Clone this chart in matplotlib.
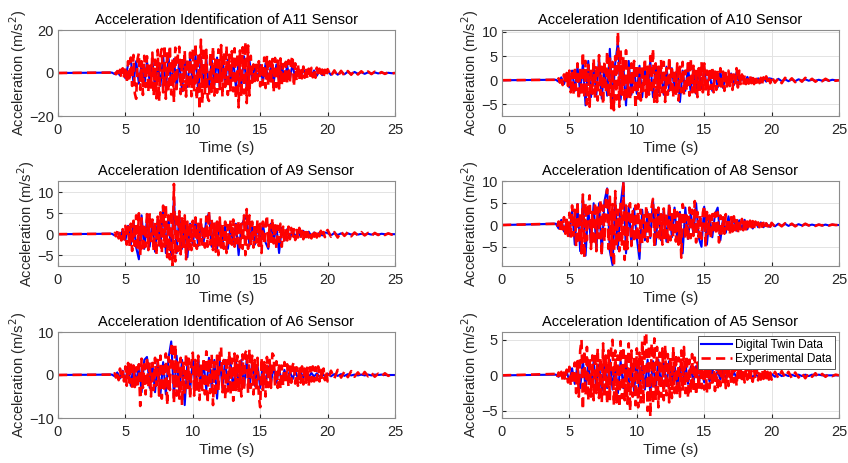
import numpy as np
import matplotlib
matplotlib.use("Agg")
import matplotlib.pyplot as plt

plt.rcParams['font.family'] = ['Liberation Sans', 'DejaVu Sans']

# time grids (s): red at 0.1 s, blue at 0.2 s, common quiet tail at 0.25 s
t_red = np.arange(40, 200) / 10
t_blue = np.arange(20, 100) / 5
t_tail = np.arange(80, 101) / 4

sensors = ["A11", "A10", "A9", "A8", "A6", "A5"]
ylims = [(-20, 20), (-7.4, 10.4), (-7.6, 12.7), (-9.4, 10.1), (-10, 10), (-6.0, 6.1)]
yticks = [[-20, 0, 20], [-5, 0, 5, 10], [-5, 0, 5, 10], [-5, 0, 5, 10], [-10, 0, 10], [-5, 0, 5]]

# ---- A11 ----
a11_exp = [0.2, -0.3, 0.5, -0.6, 0.9, -1.2, 1.5, -1.8, 2.2, -2.5,
           3.0, -4.5, 5.5, -3.8, 7.2, -6.0, 8.4, -9.5, -12.0, 6.5,
           9.2, -7.8, 5.5, -10.2, 8.0, -6.5, 7.8, -8.9, 4.5, -6.8,
           9.5, -10.5, 6.2, -11.8, 10.8, -13.0, 8.5, 11.2, -9.0, 13.0,
           -12.0, 10.5, -8.5, 12.8, -10.0, 6.5, -13.5, 11.8, -7.5, 9.2,
           12.2, -9.8, 7.0, -8.2, 10.5, -11.0, 6.8, -7.5, 9.5, -10.8,
           11.5, -8.0, 13.8, -12.5, 9.0, -17.0, 15.5, -14.0, 12.0, -9.5,
           10.8, -11.5, -13.0, 9.5, -8.8, 12.2, -10.5, 7.8, -9.2, 11.0,
           -7.5, 13.0, -11.0, 9.8, -6.5, 12.5, -10.2, 8.5, -9.0, 10.2,
           -8.5, 11.5, -12.0, 9.0, -16.0, 10.5, -11.2, 12.0, -9.5, 14.5,
           -14.0, 12.8, -10.5, 8.0, -4.5, 4.0, -5.2, 3.8, -3.5, 5.5,
           -6.2, 4.8, -5.5, 7.2, -7.0, 8.0, -6.0, 5.5, -4.8, 6.5,
           -9.0, 7.0, -6.5, 5.8, -7.2, 6.8, -5.5, 4.2, -4.8, 5.2,
           -5.0, 6.0, -4.5, 5.5, 8.0, -6.2, 4.5, -3.8, 4.2, -3.0,
           2.8, -2.5, 3.0, -2.2, 2.5, -2.8, 2.0, -1.8, 2.4, -2.0,
           1.8, -2.2, 2.5, -1.5, 2.0, -1.8, 1.6, -2.0, 1.5, -1.4]
a11_exp_tail = [1.8, -1.5, 1.2, -1.6, 1.0, -1.2, 0.9, -0.8, 1.0, -0.7, 0.8,
                -0.6, 0.7, -0.5, 0.6, -0.5, 0.4, -0.4, 0.3, -0.2, 0.0]
a11_dt = [0.2, -0.5, 0.8, -1.2, 1.8,
          -2.5, 4.0, 6.0, -4.5, 5.5,
          -5.0, 4.8, -6.2, 5.5, -4.0,
          6.0, -7.5, 5.2, -6.0, 8.0,
          -6.8, 7.2, -5.5, 6.5, -7.0,
          6.0, -8.5, 5.8, -6.5, 7.0,
          -6.0, 8.2, -9.0, 7.5, -6.2,
          6.8, -7.8, 6.0, -5.5, 7.2,
          -6.5, 7.0, -5.8, 6.2, -5.0,
          6.5, -7.0, 5.5, -6.0, 7.8,
          -7.5, 6.0, -3.5, 3.2, -3.0,
          3.8, -4.2, 4.5, -3.8, 3.5,
          -4.5, 4.0, -3.5, 3.8, -3.2,
          3.5, -3.0, 4.5, -2.8, 2.5,
          -2.0, 1.8, -1.5, 1.6, -1.4,
          1.2, -1.3, 1.1, -1.0, 0.9]
a11_dt_tail = [1.0, -0.9, 0.8, -0.8, 0.7, -0.6, 0.6, -0.5, 0.5, -0.4, 0.4,
               -0.4, 0.3, -0.3, 0.3, -0.2, 0.2, -0.2, 0.1, -0.1, 0.0]

# ---- A10 ----
a10_exp = [0.1, -0.2, 0.4, -0.5, 0.8, -1.0, 1.2, -0.8, 1.5, -1.2,
           2.0, -2.5, 1.5, -3.0, 2.8, -2.0, 3.5, -4.0, 2.5, -3.2,
           5.8, -3.5, 4.0, -5.0, 3.2, -5.5, 2.5, -2.8, 4.5, -3.8,
           3.0, -4.2, 5.2, -3.0, 2.8, -5.0, 4.0, -2.5, 6.0, -3.5,
           4.5, -5.8, 3.8, -6.2, 5.0, -4.0, 10.0, -5.5, 6.2, -3.0,
           4.8, -4.5, 6.2, -3.5, 2.8, -4.0, 3.5, -2.5, 4.0, -5.8,
           3.2, -3.8, 2.5, -4.2, 3.0, -2.2, 4.5, -3.5, 2.8, -3.0,
           5.0, -2.8, 6.5, -4.8, 3.5, -4.5, 2.8, -3.2, 4.2, -2.5,
           3.8, -4.5, 2.5, -3.0, 4.8, -2.0, 3.0, -3.5, 2.2, -2.8,
           3.5, -4.2, 2.8, -2.5, 3.8, -3.0, 2.0, -2.2, 4.2, -3.2,
           4.5, -2.5, 3.0, -2.8, 2.2, -3.5, 2.5, -2.0, 3.8, -2.5,
           3.5, -2.2, 2.0, -3.0, 2.5, -1.8, 2.8, -2.5, 1.8, -2.0,
           2.2, -1.5, 2.5, -2.0, 1.8, -2.2, 1.5, -1.8, 2.0, -1.2,
           1.5, -2.0, 1.2, -1.0, 2.5, -1.5, 2.0, -0.8, 1.2, -1.0,
           1.0, -0.8, 0.9, -0.7, 1.0, -0.6, 0.8, -0.8, 0.6, -0.5,
           0.7, -0.6, 0.5, -0.7, 0.6, -0.5, 0.8, -0.4, 0.5, -0.6]
a10_exp_tail = [0.8, -0.5, 0.4, -0.6, 0.5, -0.3, 0.4, -0.4, 0.3, -0.3, 0.5,
                -0.2, 0.3, -0.3, 0.2, -0.2, 0.3, -0.1, 0.2, -0.1, 0.0]
a10_dt = [0.1, -0.3, 0.6, -0.8, 1.0,
          -1.5, 2.0, -2.2, 2.8, -2.5,
          3.5, -5.2, 4.0, -3.5, 2.5,
          -3.0, 4.5, -3.8, 2.8, -3.2,
          6.5, -4.5, 3.5, 8.0, -4.0,
          3.0, -5.2, 4.0, -3.0, 2.5,
          -2.8, 3.0, -3.5, 2.2, -2.5,
          4.0, -3.5, 3.0, -2.5, 2.0,
          -3.0, 2.8, -2.2, 2.5, -2.0,
          2.5, -4.5, 2.0, -2.2, 2.8,
          -2.5, 2.2, -2.8, 2.0, -1.8,
          2.5, -1.8, 1.6, -2.2, 1.5,
          -1.5, 1.8, -1.6, 1.2, -1.0,
          1.4, -1.0, 1.6, -0.8, 0.8,
          -0.6, 0.7, -0.5, 0.5, -0.4,
          0.4, -0.5, 0.4, -0.3, 0.4]
a10_dt_tail = [0.3, -0.3, 0.3, -0.2, 0.2, -0.2, 0.2, -0.2, 0.2, -0.1, 0.2,
               -0.1, 0.1, -0.1, 0.1, -0.1, 0.1, -0.1, 0.1, 0.0, 0.0]

# ---- A9 ----
a9_exp = [0.1, -0.2, 0.3, -0.5, 0.8, -1.0, 0.6, -1.5, 1.2, -1.8,
          2.0, -2.5, 1.8, -3.0, 2.5, -4.0, 3.2, -2.8, 4.5, -3.5,
          5.0, -5.0, 3.8, -4.2, 2.5, -3.0, 4.8, -3.8, 5.0, -2.5,
          3.5, -4.0, 2.8, -5.0, 4.2, -3.2, 5.2, -4.5, 6.8, -3.0,
          7.0, -5.5, 4.5, -6.0, 5.5, -7.5, 12.0, -6.5, 5.0, -4.0,
          5.5, -4.8, 3.8, -3.5, 4.5, -6.0, 3.0, -4.2, 2.5, -3.8,
          3.2, -2.8, 4.0, -3.5, 2.5, -3.0, 3.8, -2.5, 2.0, -3.2,
          4.2, -3.0, 5.5, -2.5, 3.5, -3.8, 2.8, -4.2, 3.0, -5.0,
          4.0, -3.2, 2.5, -3.5, 3.0, -4.5, 2.2, -2.8, 3.5, -2.5,
          3.5, -3.0, 2.8, -2.2, 3.2, -3.8, 2.5, -3.5, 4.5, -5.0,
          6.0, -3.5, 4.5, -2.8, 3.0, -3.2, 2.5, -2.0, 3.5, -2.8,
          2.5, -4.5, 3.0, -2.5, 2.0, 4.5, -3.0, 2.2, -2.5, 3.8,
          -2.2, 2.8, -3.5, 2.0, -1.8, 2.5, -3.0, 1.8, -2.0, 1.5,
          -1.5, 1.8, -1.2, 1.5, -1.0, 1.2, -1.4, 1.0, -0.8, 1.5,
          -1.0, 0.8, -1.2, 1.0, -0.7, 1.3, -0.8, 0.6, -1.0, 0.9,
          -0.6, 1.0, -0.8, 0.7, -0.5, 0.8, -0.6, 0.5, -0.7, 0.6]
a9_exp_tail = [1.0, -0.6, 0.5, -0.8, 0.6, -0.4, 0.5, -0.5, 0.4, -0.3, 0.5,
               -0.3, 0.3, -0.4, 0.3, -0.2, 0.3, -0.2, 0.2, -0.1, 0.0]
a9_dt = [0.1, -0.3, 0.5, -0.8, 1.0,
         -1.5, 2.0, -2.5, 3.0, -3.2,
         -6.0, 4.5, -3.5, 3.8, -3.0,
         3.0, -4.2, 3.5, -3.0, 6.8,
         -4.5, 4.0, -5.0, 8.8, -4.5,
         4.5, -3.5, 3.0, -5.5, 2.5,
         -2.5, 3.0, -2.8, 2.5, -2.0,
         3.5, 5.0, -3.0, 2.5, -3.5,
         3.0, -2.5, 2.2, -3.5, 2.0,
         -2.5, 2.5, -5.0, 2.0, 3.5,
         4.0, -2.8, 2.2, -2.5, 2.0,
         -2.0, 2.5, -2.0, -3.5, 2.5,
         -1.8, 2.0, -4.5, 1.5, -1.5,
         1.2, -1.0, 1.0, -0.8, 0.8,
         -0.6, 0.8, -0.5, 0.6, -0.5,
         0.4, -0.5, 0.4, -0.3, 0.4]
a9_dt_tail = [0.3, -0.3, 0.3, -0.2, 0.2, -0.2, 0.2, -0.1, 0.2, -0.1, 0.1,
              -0.1, 0.1, -0.1, 0.1, -0.1, 0.1, 0.0, 0.1, 0.0, 0.0]

# ---- A8 ----
a8_exp = [0.3, -0.5, 0.8, -1.2, 1.5, -1.0, 1.8, -2.0, 1.2, -2.5,
          2.8, -3.0, 4.5, -2.5, 3.5, -5.0, 5.5, -4.0, 2.8, -6.5,
          7.0, -7.5, 5.0, -3.5, 4.2, 6.8, -5.5, 3.0, -4.5, 5.2,
          -6.0, 4.0, -3.0, 5.8, -7.0, 4.5, -3.8, 6.0, 8.2, -5.5,
          6.5, -7.0, 4.8, -9.4, 7.8, -5.0, 3.5, -6.0, 5.2, -4.5,
          10.0, -8.0, 4.5, -5.5, 3.8, 5.0, -4.8, 3.2, -4.0, 4.5,
          -3.5, 4.8, -6.0, 3.5, -4.2, 3.0, -2.8, 4.5, -3.8, 2.5,
          -3.2, 4.2, 6.0, -5.0, 3.5, -2.8, 4.0, -3.5, 2.5, -4.5,
          3.8, -3.0, 2.8, -4.2, 5.0, -3.5, 2.5, -2.8, 4.2, -3.8,
          3.0, -4.5, 2.5, -7.5, 4.8, 3.5, -3.0, 2.2, -3.5, 4.0,
          -3.0, 3.5, -2.5, 5.5, -4.0, 3.0, -2.8, 2.5, -3.2, 2.8,
          4.5, -5.0, 3.0, -2.5, 2.2, -3.2, 2.5, -2.0, 2.8, -2.2,
          3.0, -4.0, 2.2, -2.5, 1.8, -2.0, 2.5, -1.8, 1.5, -2.2,
          1.8, -1.5, 2.0, -1.2, 1.5, -1.8, 1.2, -1.0, 1.4, -1.2,
          1.5, -1.0, 0.8, -1.2, 1.0, -0.8, 0.9, -0.7, 0.8, -0.6,
          0.6, -0.5, 0.7, -0.4, 0.5, -0.6, 0.4, -0.3, 0.5, -0.4]
a8_exp_tail = [0.5, -0.4, 0.3, -0.3, 0.4, -0.2, 0.3, -0.3, 0.2, -0.2, 0.3,
               -0.1, 0.2, -0.2, 0.1, -0.1, 0.2, -0.1, 0.1, 0.0, 0.0]
a8_dt = [0.3, -0.8, 1.2, -1.5, 1.0,
         -2.5, 3.5, -4.5, 4.8, -6.0,
         6.5, -7.0, 4.0, -4.5, 5.0,
         -5.5, 5.0, -6.5, 5.5, 8.4,
         -6.0, -9.2, 5.5, -5.5, 4.8,
         9.8, -6.5, 4.2, -4.5, 3.8,
         -3.0, -7.8, 3.5, -3.5, 3.0,
         -3.0, 5.8, -4.5, 3.8, -3.5,
         3.5, -3.8, 4.5, -2.8, 4.0,
         -3.5, 3.0, -6.5, 4.0, -3.2,
         3.0, -2.2, 5.0, -3.0, -5.0,
         4.2, -4.5, 2.0, -2.8, 2.5,
         4.0, -3.5, 1.6, -1.8, 2.0,
         -1.4, 1.8, -1.3, 1.1, -1.0,
         1.2, -1.0, 0.9, -0.8, 0.7,
         -0.5, 0.6, -0.5, 0.4, -0.4]
a8_dt_tail = [0.4, -0.3, 0.3, -0.2, 0.3, -0.2, 0.2, -0.2, 0.2, -0.1, 0.2,
              -0.1, 0.1, -0.1, 0.1, -0.1, 0.1, -0.1, 0.1, 0.0, 0.0]

# ---- A6 ----
a6_exp = [0.1, -0.2, 0.4, -0.6, 0.8, -1.2, 1.5, -1.0, 0.8, -1.5,
          2.0, -2.5, 2.8, -1.8, 3.0, -3.5, 2.2, -2.8, 1.8, -3.0,
          2.5, -7.2, 3.8, -3.0, 2.5, -4.5, 4.2, -2.8, 3.0, -5.0,
          2.8, -3.5, 4.0, -2.5, 3.5, -4.8, 4.5, -5.5, 2.8, -3.8,
          5.0, -7.0, 4.2, -3.5, 6.5, 7.5, -6.5, 7.0, -4.8, 3.5,
          -5.5, 4.0, -7.0, 3.2, -4.5, 5.0, -3.0, 3.8, -5.5, 2.8,
          5.2, -4.8, 3.5, -3.8, 4.5, -5.8, 2.8, -3.5, 4.0, -4.5,
          5.5, -6.5, 3.8, -4.2, 4.8, -7.0, 3.0, -5.0, 4.5, -3.5,
          5.0, 6.5, -4.0, 3.5, -5.5, 4.2, -3.8, 5.5, -4.5, 3.8,
          -6.0, 5.0, -3.5, 4.5, -4.0, 3.2, -5.0, 4.8, -3.5, 5.2,
          5.8, -4.2, 6.0, -3.0, 4.5, -4.5, 3.5, -3.8, 4.0, -5.0,
          -7.5, 4.0, -3.5, 3.0, -5.0, 4.2, -2.8, 3.5, -3.0, 5.0,
          4.5, -2.5, 3.2, -3.0, 2.8, -3.2, 2.2, -2.5, 3.0, -2.0,
          2.5, -2.8, 2.0, -1.8, 2.2, 3.0, -2.0, 1.8, -2.5, 2.0,
          -1.8, 2.0, -2.2, 1.5, -1.8, 2.0, -2.5, 1.8, -1.5, 2.0,
          -1.5, 1.8, -1.2, 2.0, -1.5, 1.2, -1.0, 1.5, -1.2, 1.0]
a6_exp_tail = [-1.5, 1.0, -0.8, 1.2, -0.6, 0.8, -0.5, 0.9, -0.4, 0.6, -0.5,
               0.7, -0.3, 0.5, -0.4, 0.3, -0.3, 0.4, -0.2, 0.2, 0.0]
a6_dt = [0.1, -0.3, 0.6, -0.8, 1.0,
         -1.5, 2.0, -2.5, 2.2, -2.0,
         2.5, -4.0, 3.5, 4.2, -3.0,
         2.8, -4.0, 3.5, -4.5, 3.0,
         -4.5, 4.0, 7.8, -5.0, 4.5,
         -4.0, 3.5, -7.0, 3.0, -3.5,
         3.5, -3.0, 3.8, -2.8, 3.0,
         -3.5, 4.0, -3.0, 3.5, -5.5,
         3.5, -3.0, 3.5, -2.8, 3.0,
         -3.5, 3.0, -2.5, 3.5, -2.8,
         3.5, -3.0, 2.8, -2.5, 2.2,
         -3.0, 2.5, -2.2, 2.0, -1.8,
         2.0, -1.8, 1.5, -1.6, 1.2,
         -1.2, 1.0, -1.0, 0.9, -0.8,
         0.7, -0.6, 0.6, -0.5, 0.5,
         -0.4, 0.4, -0.4, 0.3, -0.3]
a6_dt_tail = [0.3, -0.3, 0.2, -0.2, 0.2, -0.2, 0.2, -0.1, 0.1, -0.1, 0.1,
              -0.1, 0.1, -0.1, 0.1, 0.0, 0.1, 0.0, 0.0, 0.0, 0.0]

# ---- A5 ----
a5_exp = [0.2, -0.3, 0.4, -0.3, 0.5, -0.6, 0.4, -0.7, 0.8, -1.0,
          1.2, -1.5, 0.8, -1.2, 1.8, -2.5, 2.0, -3.0, 3.5, 5.0,
          -4.8, 3.5, -2.8, 4.0, -3.5, 2.5, -3.0, 2.8, -3.5, 3.2,
          -2.5, 3.8, -3.2, 2.5, -3.8, 4.5, -3.0, 2.8, -4.0, 3.5,
          -3.5, 4.0, 5.0, -4.2, 3.5, -3.8, 2.8, -4.5, 4.8, -3.2,
          4.0, -3.5, 3.0, -4.0, 4.5, -5.0, 3.5, -3.0, 2.5, -4.2,
          3.8, -4.5, 3.2, -3.8, 4.8, -4.0, 5.5, 6.0, -5.0, 4.2,
          -5.8, 4.5, -4.0, 5.2, -3.5, 4.0, -4.5, 3.2, -3.0, 3.8,
          -3.5, 4.2, -2.8, 3.0, -3.8, 2.5, -3.2, 4.0, -2.5, 3.0,
          -2.8, 2.5, -3.0, 3.5, -2.2, 4.0, -2.5, 2.8, -3.2, 2.2,
          -2.5, 3.0, -2.2, 2.5, -2.8, 1.8, -2.0, 2.5, -1.8, 2.2,
          -2.0, 1.5, -2.5, 2.2, -1.8, 2.0, -1.5, 1.8, -2.2, 1.5,
          -2.0, 1.8, -1.5, 2.0, -1.2, 1.5, -1.8, 1.2, -1.5, 2.0,
          -1.2, 1.5, -1.0, 1.2, -1.5, 1.0, -0.8, 1.2, -1.0, 0.8,
          -1.0, 0.8, -0.6, 1.0, -0.8, 0.6, -0.9, 0.7, -0.5, 0.8,
          -0.7, 0.5, -0.6, 0.8, -0.5, 0.6, -0.4, 0.5, -0.6, 0.4]
a5_exp_tail = [-0.6, 0.5, -0.4, 0.6, -0.3, 0.5, -0.4, 0.4, -0.3, 0.3, -0.4,
               0.3, -0.2, 0.3, -0.3, 0.2, -0.2, 0.2, -0.1, 0.1, 0.0]
a5_dt = [0.1, -0.2, 0.3, -0.4, 0.5,
         -0.8, 1.0, -1.2, 1.5, -1.8,
         2.2, -2.0, 1.8, -1.5, 2.0,
         -1.8, 1.5, -2.2, 2.0, -1.8,
         2.2, -2.0, 1.8, -2.5, 2.0,
         -1.8, 2.2, -2.0, 1.5, -2.2,
         2.0, -2.5, 1.8, -2.0, 2.2,
         -2.5, 2.0, -1.8, 2.2, -1.5,
         1.8, -1.5, 2.0, -1.2, 1.5,
         -1.5, 1.2, -1.4, 1.8, -1.2,
         1.2, -1.0, 1.3, -1.0, 0.9,
         -1.0, 0.8, -0.9, 1.0, -0.7,
         0.7, -0.6, 0.8, -0.5, 0.6,
         -0.5, 0.5, -0.4, 0.4, -0.4,
         0.3, -0.3, 0.3, -0.3, 0.2,
         -0.2, 0.2, -0.2, 0.2, -0.2]
a5_dt_tail = [0.2, -0.2, 0.2, -0.1, 0.1, -0.1, 0.1, -0.1, 0.1, -0.1, 0.1,
              -0.1, 0.1, 0.0, 0.1, 0.0, 0.0, 0.0, 0.0, 0.0, 0.0]

exp_data = [(a11_exp, a11_exp_tail), (a10_exp, a10_exp_tail), (a9_exp, a9_exp_tail),
            (a8_exp, a8_exp_tail), (a6_exp, a6_exp_tail), (a5_exp, a5_exp_tail)]
dt_data = [(a11_dt, a11_dt_tail), (a10_dt, a10_dt_tail), (a9_dt, a9_dt_tail),
           (a8_dt, a8_dt_tail), (a6_dt, a6_dt_tail), (a5_dt, a5_dt_tail)]

W, H = 848, 463
fig = plt.figure(figsize=(W / 100, H / 100), dpi=100)

# axes boxes in pixels: (left, top, right, bottom)
lefts = [58, 502]
rows = [(30, 116), (181, 266), (332, 418)]

dark = "#262626"
for k, name in enumerate(sensors):
    r, c = divmod(k, 2)
    x0 = lefts[c]
    top, bot = rows[r]
    ax = fig.add_axes([x0 / W, (H - bot) / H, 337 / W, (bot - top) / H])

    main, tail = dt_data[k]
    tb = np.r_[0.0, t_blue, t_tail]
    yb = np.r_[0.0, main, tail]
    ax.plot(tb, yb, color=(0, 0, 1), lw=1.5, label="Digital Twin Data")

    main, tail = exp_data[k]
    tr = np.r_[0.0, t_red, t_tail]
    yr = np.r_[0.0, main, tail]
    ax.plot(tr, yr, color=(1, 0, 0), lw=1.9, ls=(0, (3.5, 2.0)),
            label="Experimental Data")

    ax.set_xlim(0, 25)
    ax.set_ylim(*ylims[k])
    ax.set_xticks([0, 5, 10, 15, 20, 25])
    ax.set_yticks(yticks[k])
    ax.grid(True, color="#e3e3e3", lw=0.7)
    ax.set_axisbelow(True)
    ax.tick_params(direction="in", length=3, labelsize=10.5, colors=dark,
                   labelcolor=dark)
    ax.tick_params(axis="x", pad=5)
    ax.tick_params(axis="y", pad=3)
    for sp in ax.spines.values():
        sp.set_color("#8c8c8c")
        sp.set_linewidth(0.8)
    ax.set_title(f"Acceleration Identification of {name} Sensor",
                 fontsize=10.5, color="black", pad=4)
    ax.set_xlabel("Time (s)", fontsize=11, color=dark, labelpad=3)
    ax.set_ylabel("Acceleration (m/s$^2$)", fontsize=10.5, color=dark, labelpad=0)

    if name == "A5":
        leg = ax.legend(loc="upper right", fontsize=8.5, fancybox=False,
                        framealpha=1, edgecolor="#555555", handlelength=2.6,
                        borderpad=0.3, labelspacing=0.2, handletextpad=0.3,
                        borderaxespad=0.3)
        leg.get_frame().set_linewidth(0.7)

fig.savefig("out.png", dpi=100)
